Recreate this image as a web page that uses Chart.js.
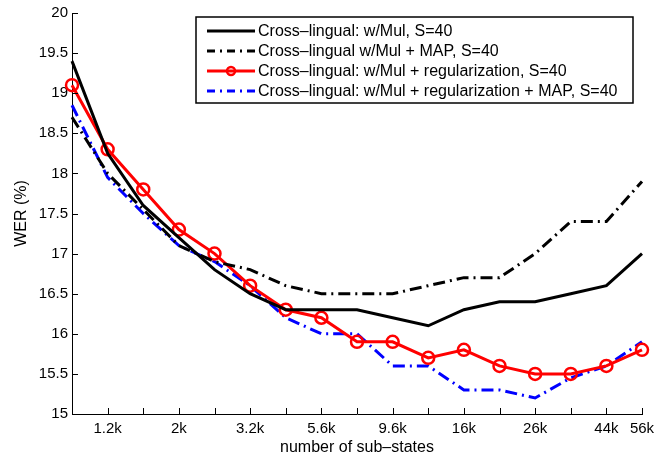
<!DOCTYPE html>
<html>
<head>
<meta charset="utf-8">
<script src="https://cdn.jsdelivr.net/npm/chart.js@4/dist/chart.umd.min.js"></script>
<style>
  html, body { margin: 0; padding: 0; background: #fff; }
  #wrap { width: 667px; height: 457px; }
</style>
</head>
<body>
<div id="wrap"><canvas id="myChart"></canvas></div>
<script>
// x categories (only some are labelled in the figure)
const xLabels = ["", "1.2k", "", "2k", "", "3.2k", "", "5.6k", "", "9.6k", "", "16k", "", "26k", "", "44k", "56k"];

const mulWER = [19.4, 18.25, 17.6, 17.2, 16.8, 16.5, 16.3, 16.3, 16.3, 16.2, 16.1, 16.3, 16.4, 16.4, 16.5, 16.6, 17.0];
const mulMapWER = [18.7, 18.0, 17.55, 17.1, 16.9, 16.8, 16.6, 16.5, 16.5, 16.5, 16.6, 16.7, 16.7, 17.0, 17.4, 17.4, 17.9];
const regWER = [19.1, 18.3, 17.8, 17.3, 17.0, 16.6, 16.3, 16.2, 15.9, 15.9, 15.7, 15.8, 15.6, 15.5, 15.5, 15.6, 15.8];
const regMapWER = [18.85, 17.95, 17.5, 17.1, 16.9, 16.6, 16.2, 16.0, 16.0, 15.6, 15.6, 15.3, 15.3, 15.2, 15.45, 15.6, 15.9];

const seriesNames = [
  "Cross\u2013lingual: w/Mul, S=40",
  "Cross\u2013lingual w/Mul + MAP, S=40",
  "Cross\u2013lingual: w/Mul + regularization, S=40",
  "Cross\u2013lingual: w/Mul + regularization + MAP, S=40",
];

const FONT = "Liberation Sans, Arial, Helvetica, sans-serif";
const dashDot = [12, 5, 2, 5];

// matlab style ticks pointing into the plot
const inwardTicks = {
  id: "inwardTicks",
  afterDraw(chart) {
    const c = chart.ctx;
    const xs = chart.scales.x;
    const ys = chart.scales.y;
    c.save();
    c.strokeStyle = "#000";
    c.lineWidth = 1;
    c.beginPath();
    xs.ticks.forEach((t, i) => {
      const px = Math.round(xs.getPixelForTick(i)) + 0.5;
      c.moveTo(px, ys.bottom);
      c.lineTo(px, ys.bottom - 6);
    });
    ys.ticks.forEach((t, i) => {
      const py = Math.round(ys.getPixelForTick(i)) + 0.5;
      c.moveTo(xs.left, py);
      c.lineTo(xs.left + 6, py);
    });
    c.stroke();
    c.restore();
  },
};

// boxed legend in the upper right
const boxLegend = {
  id: "boxLegend",
  afterDraw(chart) {
    const c = chart.ctx;
    const left = 196, top = 17, right = 633, bottom = 103;
    c.save();
    c.fillStyle = "#fff";
    c.fillRect(left, top, right - left, bottom - top);
    c.strokeStyle = "#000";
    c.lineWidth = 1.5;
    c.strokeRect(left, top, right - left, bottom - top);
    c.font = "16px " + FONT;
    c.textBaseline = "middle";
    chart.data.datasets.forEach((ds, i) => {
      const y = 31 + i * 20;
      c.strokeStyle = ds.borderColor;
      c.lineWidth = ds.borderWidth;
      c.setLineDash(ds.borderDash ? [8, 5, 2, 5] : []);
      c.beginPath();
      c.moveTo(207, y);
      c.lineTo(255, y);
      c.stroke();
      c.setLineDash([]);
      if (ds.pointRadius > 0) {
        c.lineWidth = 2.5;
        c.beginPath();
        c.arc(231, y, 4, 0, Math.PI * 2);
        c.stroke();
      }
      c.fillStyle = "#000";
      c.fillText(ds.label, 258, y + 1);
    });
    c.restore();
  },
};

const ctx = document.getElementById("myChart");

const myChart = new Chart(ctx, {
  type: "line",
  data: {
    labels: xLabels,
    datasets: [
      {
        label: seriesNames[0],
        data: mulWER,
        borderColor: "#000000",
        borderWidth: 3,
        pointRadius: 0,
      },
      {
        label: seriesNames[1],
        data: mulMapWER,
        borderColor: "#000000",
        borderWidth: 3,
        borderDash: dashDot,
        pointRadius: 0,
      },
      {
        label: seriesNames[2],
        data: regWER,
        borderColor: "#ff0000",
        borderWidth: 3,
        pointRadius: 6,
        pointBorderWidth: 2.5,
        pointBackgroundColor: "rgba(255,255,255,0)",
        pointBorderColor: "#ff0000",
      },
      {
        label: seriesNames[3],
        data: regMapWER,
        borderColor: "#0000ff",
        borderWidth: 3,
        borderDash: dashDot,
        pointRadius: 0,
      },
    ],
  },
  options: {
    responsive: true,
    maintainAspectRatio: false,
    animation: false,
    clip: false,
    layout: { padding: { top: 9, right: 25, left: 0, bottom: 0 } },
    elements: { line: { tension: 0 } },
    plugins: {
      legend: { display: false },
      tooltip: { enabled: false },
    },
    scales: {
      x: {
        offset: false,
        grid: { display: false, drawTicks: false, tickLength: 0 },
        border: { display: true, color: "#000", width: 1 },
        ticks: {
          autoSkip: false,
          maxRotation: 0,
          padding: 6,
          color: "#000",
          font: { family: FONT, size: 15 },
        },
        title: {
          display: true,
          text: "number of sub\u2013states",
          color: "#000",
          font: { family: FONT, size: 16 },
          padding: { top: 4, bottom: 0 },
        },
        afterFit: (s) => { s.height = 43; },
      },
      y: {
        min: 15,
        max: 20,
        grid: { display: false, drawTicks: false, tickLength: 0 },
        border: { display: true, color: "#000", width: 1 },
        ticks: {
          stepSize: 0.5,
          padding: 4,
          color: "#000",
          font: { family: FONT, size: 15 },
          callback: (v) => String(v),
        },
        title: {
          display: true,
          text: "WER (%)",
          color: "#000",
          font: { family: FONT, size: 16 },
          padding: { top: 12, bottom: 4 },
        },
        afterFit: (s) => { s.width = 72; },
      },
    },
  },
  plugins: [inwardTicks, boxLegend],
});
</script>
</body>
</html>
